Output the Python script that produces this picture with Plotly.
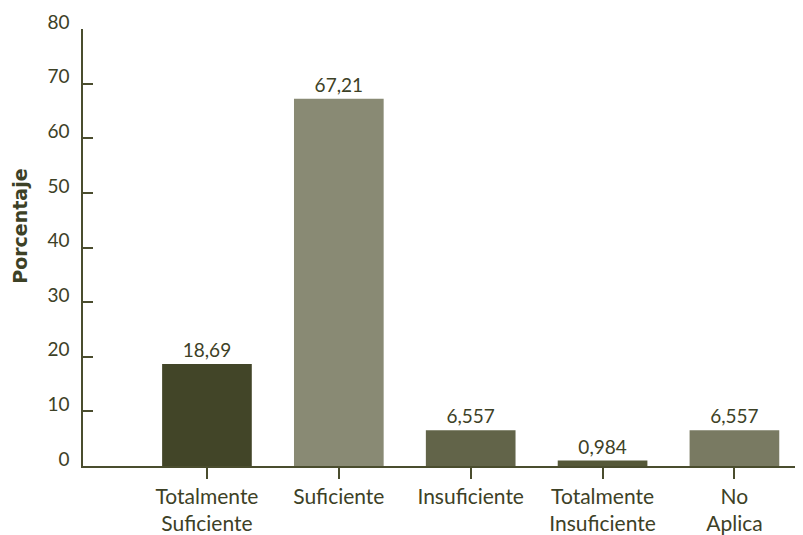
import plotly.graph_objects as go

categories = ["Totalmente<br>Suficiente", "Suficiente", "Insuficiente", "Totalmente<br>Insuficiente", "No<br>Aplica"]
values = [18.69, 67.21, 6.557, 0.984, 6.557]
value_labels = ["18,69", "67,21", "6,557", "0,984", "6,557"]
bar_colors = ["#424528", "#898a74", "#626449", "#555838", "#797a62"]
y_ticks = [0, 10, 20, 30, 40, 50, 60, 70, 80]

TXT = "#3d4126"
AX = "#4a4d2e"

fig = go.Figure(go.Bar(
    x=categories, y=values, text=value_labels, textposition="outside",
    marker=dict(color=bar_colors, line=dict(width=0)), width=0.68,
    textfont=dict(family="Lato", size=19, color=TXT), cliponaxis=False,
))

# page has an 8px body margin; size the figure so it fills the 803x535 window
W, H = 795, 527
L, R, T, B = 75, 0, 21, 64
PW, PH = W - L - R, H - T - B
fig.update_layout(
    width=W, height=H, margin=dict(l=L, r=R, t=T, b=B),
    plot_bgcolor="white", paper_bgcolor="white", showlegend=False,
    font=dict(family="Lato", color=TXT),
    xaxis=dict(type="category", range=[-0.94, 4.52], showline=True, linecolor=AX, linewidth=1.5,
               ticks="outside", ticklen=11, tickcolor=AX, tickwidth=1.5,
               tickfont=dict(family="Lato", size=21, color=TXT), showgrid=False),
    yaxis=dict(range=[0, 80], tickvals=y_ticks, showline=True, linecolor=AX, linewidth=1.5,
               ticks="inside", ticklen=10, tickcolor=AX, tickwidth=1.5,
               tickfont=dict(family="Lato", size=19, color=TXT), showgrid=False,
               zeroline=False, ticklabelstandoff=8, ticklabelshift=-7),
    annotations=[dict(text="<b>Porcentaje</b>", xref="paper", yref="paper",
                      x=(12 - L) / PW, y=(T + PH - 221) / PH,
                      textangle=-90, showarrow=False, xanchor="center", yanchor="middle",
                      font=dict(family="DejaVu Sans", size=19, color=TXT))],
)

fig.write_html("out.html")
